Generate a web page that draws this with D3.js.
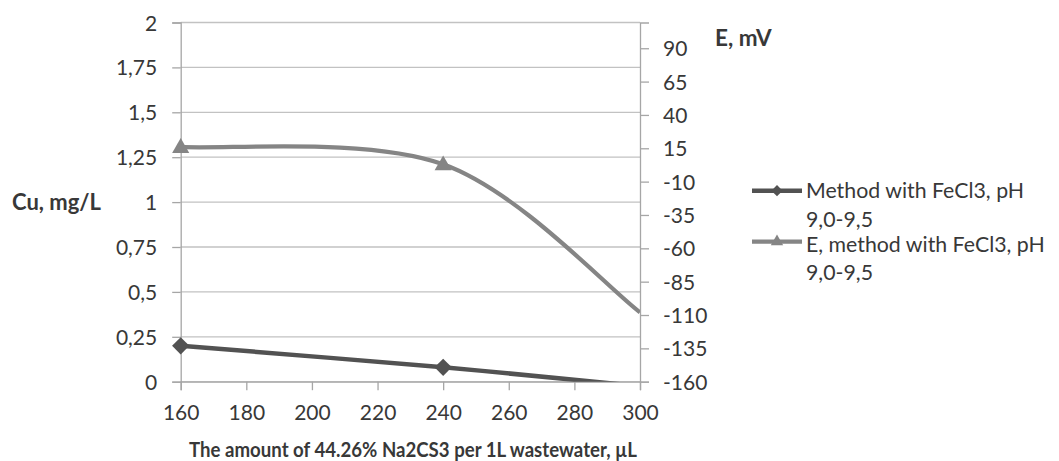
<!DOCTYPE html>
<html><head><meta charset="utf-8">
<script src="https://cdn.jsdelivr.net/npm/d3@7"></script>
<style>
html,body{margin:0;padding:0;background:#fff;}
svg{display:block;}
text{font-family:Lato,sans-serif;fill:#383838;}
</style></head>
<body>
<svg id="chart" width="1059" height="461"></svg>
<script>
// ---- data ----
const xValues = [160, 240, 300];
const cuValues = [0.2, 0.08, -0.025];
const eValues = [16, 3, -108];
const markerShown = [true, true, false];
const xTicks = [160, 180, 200, 220, 240, 260, 280, 300];
const leftTicks = [0, 0.25, 0.5, 0.75, 1, 1.25, 1.5, 1.75, 2];
const rightTicks = [-160, -135, -110, -85, -60, -35, -10, 15, 40, 65, 90];
const seriesNames = [["Method with FeCl3, pH", "9,0-9,5"], ["E, method with FeCl3, pH", "9,0-9,5"]];
const leftTitle = "Cu, mg/L";
const rightTitle = "E, mV";
const xTitle = "The amount of 44.26% Na2CS3 per 1L wastewater, µL";

const fmtComma = d => String(d).replace(".", ",");
const fmtPlain = d => String(d);

const svg = d3.select("#chart");
const L = 180.7, R = 640, T = 22.5, B = 381.7;
const x = d3.scaleLinear().domain([160, 300]).range([L, R]);
const yL = d3.scaleLinear().domain([0, 2]).range([B, T]);
const yR = d3.scaleLinear().domain([-160, 109.3]).range([B, T]);

const gridColor = "#c2c2c2", axisColor = "#a6a6a6";
const cuColor = "#525252", eColor = "#858585";
const tickFont = 21;

// gridlines
svg.append("g").selectAll("line").data(leftTicks).join("line")
  .attr("x1", L).attr("x2", R)
  .attr("y1", d => yL(d)).attr("y2", d => yL(d))
  .attr("stroke", gridColor).attr("stroke-width", 1.3);

function styleAxis(g) {
  g.select(".domain").attr("stroke", axisColor).attr("stroke-width", 1.3);
  g.selectAll(".tick line").attr("stroke", axisColor).attr("stroke-width", 1.3);
  g.selectAll(".tick text").attr("font-size", tickFont).attr("font-family", "Lato").attr("fill", "#383838");
}

// left axis
const gl = svg.append("g").attr("transform", `translate(${L},0)`)
  .call(d3.axisLeft(yL).tickValues(leftTicks).tickFormat(fmtComma).tickSize(8.5).tickPadding(15));
styleAxis(gl);
gl.selectAll(".tick text").attr("dy", "0.36em");

// right axis
const gr = svg.append("g").attr("transform", `translate(${R},0)`)
  .call(d3.axisRight(yR).tickValues(rightTicks).tickFormat(fmtPlain).tickSize(9).tickPadding(14));
styleAxis(gr);
gr.selectAll(".tick text").attr("dy", "0.36em");

// bottom axis
const gb = svg.append("g").attr("transform", `translate(0,${B})`)
  .call(d3.axisBottom(x).tickValues(xTicks).tickFormat(fmtPlain).tickSize(8.5).tickPadding(16));
styleAxis(gb);
gb.selectAll(".tick text").attr("y", 38.3).attr("dy", "0");

// clip
svg.append("clipPath").attr("id", "plotclip").append("rect")
  .attr("x", L).attr("y", T).attr("width", R - L).attr("height", B - T);

const cuData = xValues.map((v, i) => ({x: v, y: cuValues[i], m: markerShown[i]}));
const eData = xValues.map((v, i) => ({x: v, y: eValues[i], m: markerShown[i]}));

// Excel-style smoothed line (Bezier, control points at 1/6 of neighbour chord)
function smoothPath(data, ys) {
  const p = data.map(d => [x(d.x), ys(d.y)]);
  const path = d3.path();
  path.moveTo(p[0][0], p[0][1]);
  for (let i = 0; i < p.length - 1; i++) {
    const p0 = p[Math.max(i - 1, 0)], p1 = p[i], p2 = p[i + 1], p3 = p[Math.min(i + 2, p.length - 1)];
    path.bezierCurveTo(
      p1[0] + (p2[0] - p0[0]) / 6, p1[1] + (p2[1] - p0[1]) / 6,
      p2[0] - (p3[0] - p1[0]) / 6, p2[1] - (p3[1] - p1[1]) / 6,
      p2[0], p2[1]);
  }
  return path.toString();
}

svg.append("path")
  .attr("clip-path", "url(#plotclip)")
  .attr("d", smoothPath(eData, yR))
  .attr("fill", "none").attr("stroke", eColor).attr("stroke-width", 4.2);
svg.append("path")
  .attr("clip-path", "url(#plotclip)")
  .attr("d", smoothPath(cuData, yL))
  .attr("fill", "none").attr("stroke", cuColor).attr("stroke-width", 4.5);

const diamond = d3.symbol().type(d3.symbolDiamond2);
const triangle = d3.symbol().type(d3.symbolTriangle2);

svg.append("g").selectAll("path").data(cuData.filter(d => d.m)).join("path")
  .attr("transform", d => `translate(${x(d.x)},${yL(d.y)})`)
  .attr("d", diamond.size(190)()).attr("fill", cuColor);
svg.append("g").selectAll("path").data(eData.filter(d => d.m)).join("path")
  .attr("transform", d => `translate(${x(d.x)},${yR(d.y) + 1})`)
  .attr("d", triangle.size(210)()).attr("fill", eColor);

// axis titles
svg.append("text").attr("x", 12).attr("y", 210).attr("font-size", 22).attr("font-weight", "bold")
  .text(leftTitle);
svg.append("text").attr("x", 715).attr("y", 46).attr("font-size", 22.5).attr("font-weight", "bold")
  .text(rightTitle);
svg.append("text").attr("x", 189).attr("y", 457)
  .attr("font-size", 21.5).attr("font-weight", "bold")
  .attr("textLength", 448).attr("lengthAdjust", "spacingAndGlyphs").text(xTitle);

// legend
const legend = svg.append("g");
const legendItems = [
  {name: seriesNames[0], color: cuColor, sym: diamond.size(80)(), ly: 190.7, ty: 198.3, sw: 4.5},
  {name: seriesNames[1], color: eColor, sym: triangle.size(110)(), ly: 241.7, ty: 251.7, sw: 4.2}
];
legendItems.forEach(it => {
  legend.append("line").attr("x1", 752).attr("x2", 802).attr("y1", it.ly).attr("y2", it.ly)
    .attr("stroke", it.color).attr("stroke-width", it.sw);
  legend.append("path").attr("transform", `translate(777,${it.ly})`).attr("d", it.sym).attr("fill", it.color);
  const t = legend.append("text").attr("x", 806).attr("y", it.ty).attr("font-size", 21.3);
  t.append("tspan").attr("x", 806).text(it.name[0]);
  t.append("tspan").attr("x", 806).attr("dy", 28.4).text(it.name[1]);
});
</script>
</body></html>
